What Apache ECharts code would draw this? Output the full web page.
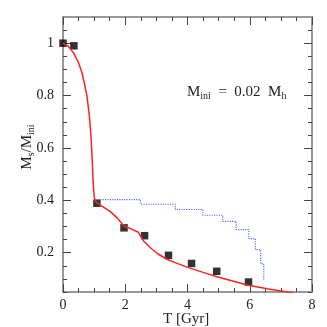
<!DOCTYPE html>
<html><head><meta charset="utf-8">
<script src="https://cdn.jsdelivr.net/npm/echarts@6/dist/echarts.min.js"></script>
<style>html,body{margin:0;padding:0;background:#fff}#c{width:327px;height:327px}</style>
</head><body><div id="c"></div>
<script>
// Red model curve: time [Gyr] and M_s/M_ini
const redT = [0, 0.15, 0.34, 0.5, 0.61, 0.7, 0.77, 0.85, 0.9, 0.94, 0.97, 1.0, 1.03, 1.09, 1.3, 1.52, 1.75, 1.95, 2.2, 2.42, 2.5, 2.59, 2.8, 3.02, 3.34, 3.6, 3.99, 4.5, 4.95, 5.45, 5.92, 6.56, 7.0, 7.4];
const redV = [1.0, 0.99, 0.963, 0.925, 0.887, 0.84, 0.797, 0.72, 0.643, 0.55, 0.47, 0.415, 0.4, 0.39, 0.374, 0.357, 0.332, 0.303, 0.29, 0.278, 0.262, 0.245, 0.22, 0.198, 0.175, 0.162, 0.145, 0.125, 0.108, 0.092, 0.077, 0.062, 0.054, 0.047];
// Blue dotted step curve
const blueT = [1.04, 2.49, 3.61, 4.49, 5.13, 5.56, 5.97, 6.18, 6.35, 6.45];
const blueV = [0.403, 0.385, 0.365, 0.343, 0.32, 0.288, 0.254, 0.212, 0.158, 0.097];
// Black square points
const sqT = [0, 0.35, 1.09, 1.96, 2.62, 3.39, 4.13, 4.94, 5.96];
const sqV = [1.0, 0.99, 0.389, 0.295, 0.265, 0.19, 0.159, 0.129, 0.088];
// Tick values
const yMajor = [0.2, 0.4, 0.6, 0.8, 1];
const yMinor = [0.05, 0.1, 0.15, 0.25, 0.3, 0.35, 0.45, 0.5, 0.55, 0.65, 0.7, 0.75, 0.85, 0.9, 0.95, 1.05];

const zip = (a, b) => a.map((v, i) => [v, b[i]]);
const frame = {show: true, lineStyle: {color: '#999', width: 2}};
const labFont = 'Liberation Serif';

function yAx(pos, major, labels) {
  return {
    type: 'value', position: pos, min: 0.05, max: 1.1,
    axisLine: major ? frame : {show: false},
    splitLine: {show: false},
    axisTick: {show: true, inside: true, length: major ? 8 : 4, lineStyle: {color: '#444', width: 1},
      customValues: major ? yMajor : yMinor},
    axisLabel: {show: labels, customValues: yMajor, fontFamily: labFont, fontSize: 14, color: '#222', margin: 9},
  };
}

const chart = echarts.init(document.getElementById('c'));
chart.setOption({
  animation: false,
  grid: {left: 63, right: 15, top: 17, bottom: 35},
  xAxis: [
    {type: 'value', position: 'bottom', min: 0, max: 8, interval: 2,
      axisLine: frame, splitLine: {show: false},
      axisTick: {inside: true, length: 8, lineStyle: {color: '#444'}},
      minorTick: {show: true, splitNumber: 4, length: 4, lineStyle: {color: '#444'}},
      axisLabel: {fontFamily: labFont, fontSize: 14, color: '#222', margin: 6}},
    {type: 'value', position: 'top', min: 0, max: 8, interval: 2,
      axisLine: frame, splitLine: {show: false},
      axisTick: {inside: true, length: 8, lineStyle: {color: '#444'}},
      minorTick: {show: true, splitNumber: 4, length: 4, lineStyle: {color: '#444'}},
      axisLabel: {show: false}}
  ],
  yAxis: [yAx('left', true, true), yAx('left', false, false), yAx('right', true, false), yAx('right', false, false)],
  series: [
    {type: 'line', data: zip(blueT, blueV), step: 'end', showSymbol: false,
      lineStyle: {color: '#5a6bff', width: 1.2, type: 'dotted'}},
    {type: 'line', data: zip(redT, redV), showSymbol: false, clip: true,
      lineStyle: {color: '#ff2020', width: 1.5}},
    {type: 'scatter', data: zip(sqT, sqV), symbol: 'rect', symbolSize: 7.5,
      itemStyle: {color: '#000'}}
  ],
  graphic: [
    {type: 'text', x: 163, y: 312, style: {text: 'T [Gyr]', font: '15px "Liberation Serif"', fill: '#222'}},
    {type: 'text', x: 27, y: 147, rotation: Math.PI / 2, style: {
      text: '{m|M}{s|s}{m|/M}{s|ini}', align: 'center', verticalAlign: 'middle',
      rich: {m: {fontFamily: labFont, fontSize: 15, fill: '#222', lineHeight: 18, verticalAlign: 'middle'},
             s: {fontFamily: labFont, fontSize: 10, fill: '#222', lineHeight: 18, verticalAlign: 'bottom', padding: [6, 0, 0, 0]}}}},
    {type: 'text', x: 187, y: 92, style: {
      text: '{m|M}{s|ini}{m|  =  0.02  M}{s|h}', verticalAlign: 'middle',
      rich: {m: {fontFamily: labFont, fontSize: 15, fill: '#222', lineHeight: 18, verticalAlign: 'middle'},
             s: {fontFamily: labFont, fontSize: 10, fill: '#222', lineHeight: 18, verticalAlign: 'bottom', padding: [6, 0, 0, 0]}}}}
  ]
});
</script></body></html>
